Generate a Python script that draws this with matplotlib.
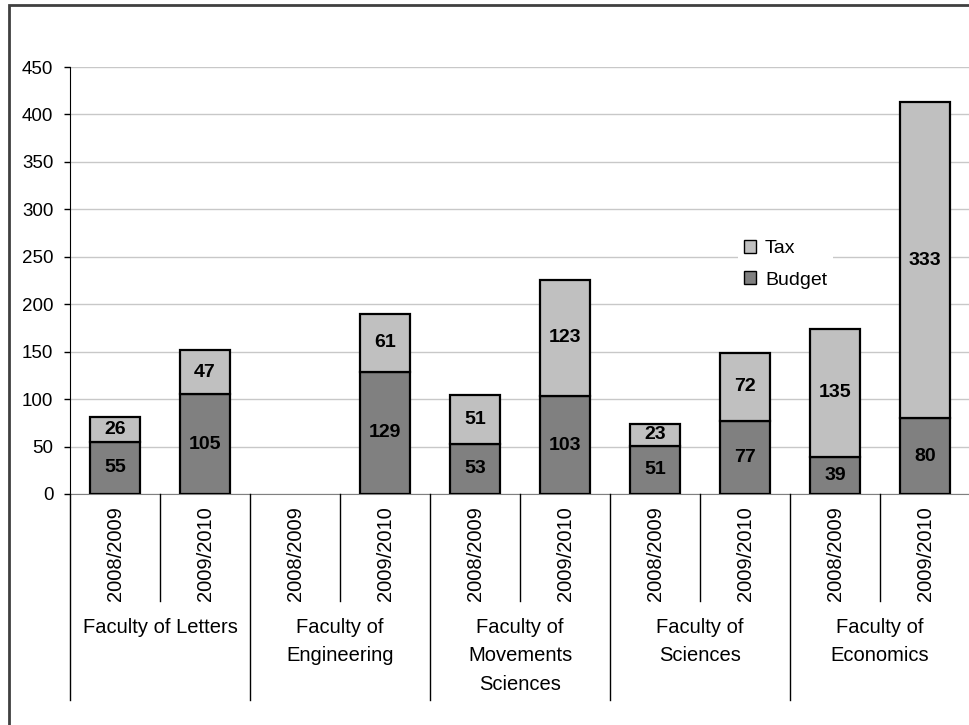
import numpy as np
import matplotlib
matplotlib.use("Agg")
import matplotlib.pyplot as plt
from matplotlib import transforms
from matplotlib.patches import Rectangle, Patch
from matplotlib.lines import Line2D

plt.rcParams["font.family"] = ["Liberation Sans", "DejaVu Sans"]

faculties = [
    "Faculty of Letters",
    "Faculty of\nEngineering",
    "Faculty of\nMovements\nSciences",
    "Faculty of\nSciences",
    "Faculty of\nEconomics",
]
years = ["2008/2009", "2009/2010"]

# budget / tax per faculty and year (None = no data)
budget = [55, 105, None, 129, 53, 103, 51, 77, 39, 80]
tax = [26, 47, None, 61, 51, 123, 23, 72, 135, 333]

W, H = 969, 725
fig = plt.figure(figsize=(W / 100, H / 100), dpi=100)

# plot area in pixels
left, right, top, bottom = 70, 970, 67, 494
ax = fig.add_axes([left / W, 1 - bottom / H, (right - left) / W, (bottom - top) / H])

# outer chart border (cut off on right and bottom)
fig.patches.append(Rectangle((9 / W, -0.1), 1.2, 1 - 5 / H + 0.1,
                             transform=fig.transFigure, fill=False,
                             edgecolor="#404040", linewidth=2))

x = np.arange(len(budget))
b = np.array([v if v is not None else 0 for v in budget], dtype=float)
t = np.array([v if v is not None else 0 for v in tax], dtype=float)
has = np.array([v is not None for v in budget])

ax.bar(x[has], b[has], width=0.56, color="#808080", edgecolor="black",
       linewidth=1.6, zorder=3, label="Budget")
ax.bar(x[has], t[has], bottom=b[has], width=0.56, color="#c0c0c0",
       edgecolor="black", linewidth=1.6, zorder=3, label="Tax")

for i in x[has]:
    ax.text(i, b[i] / 2, f"{int(b[i])}", ha="center", va="center",
            fontsize=14, fontweight="bold", zorder=4)
    ax.text(i, b[i] + t[i] / 2, f"{int(t[i])}", ha="center", va="center",
            fontsize=14, fontweight="bold", zorder=4)

ax.set_xlim(-0.5, len(budget) - 0.5)
ax.set_ylim(0, 450)
ax.set_yticks(range(0, 451, 50))
ax.yaxis.grid(True, color="#c8c8c8", linewidth=1)
ax.set_axisbelow(True)
ax.tick_params(axis="y", direction="out", length=4, width=1, pad=8,
               labelsize=13.5, colors="black")
ax.set_xticks([])
for s in ["top", "right"]:
    ax.spines[s].set_visible(False)
ax.spines["left"].set_color("black")
ax.spines["bottom"].set_color("#808080")

# category axis: year labels, faculty labels, separators
trans = transforms.blended_transform_factory(ax.transData, fig.transFigure)
for i in x:
    ax.text(i, 1 - 506 / H, years[i % 2], rotation=90, ha="center", va="top",
            fontsize=14.5, transform=trans, clip_on=False)
for g, name in enumerate(faculties):
    ax.text(2 * g + 0.5, 1 - 618 / H, name, ha="center", va="top",
            fontsize=14.5, linespacing=1.62, transform=trans, clip_on=False)
for g in range(len(faculties)):
    xm = 2 * g + 0.5
    fig.lines.append(Line2D([xm, xm], [1 - bottom / H, 1 - 601 / H],
                            transform=trans, color="black", linewidth=1))
    xs = 2 * g - 0.5
    fig.lines.append(Line2D([xs, xs], [1 - bottom / H, 1 - 700 / H],
                            transform=trans, color="black", linewidth=1))

handles = [Patch(facecolor="#c0c0c0", edgecolor="black", linewidth=1),
           Patch(facecolor="#808080", edgecolor="black", linewidth=1)]
leg = fig.legend(handles, ["Tax", "Budget"], loc="upper left",
                 bbox_to_anchor=(728 / W, 1 - 224 / H), fontsize=14,
                 frameon=True, framealpha=1, facecolor="white",
                 edgecolor="none", fancybox=False, handlelength=0.65,
                 handleheight=0.65, handletextpad=0.45, labelspacing=0.75,
                 borderpad=0.3)

fig.savefig("out.png", dpi=100, facecolor="white")
